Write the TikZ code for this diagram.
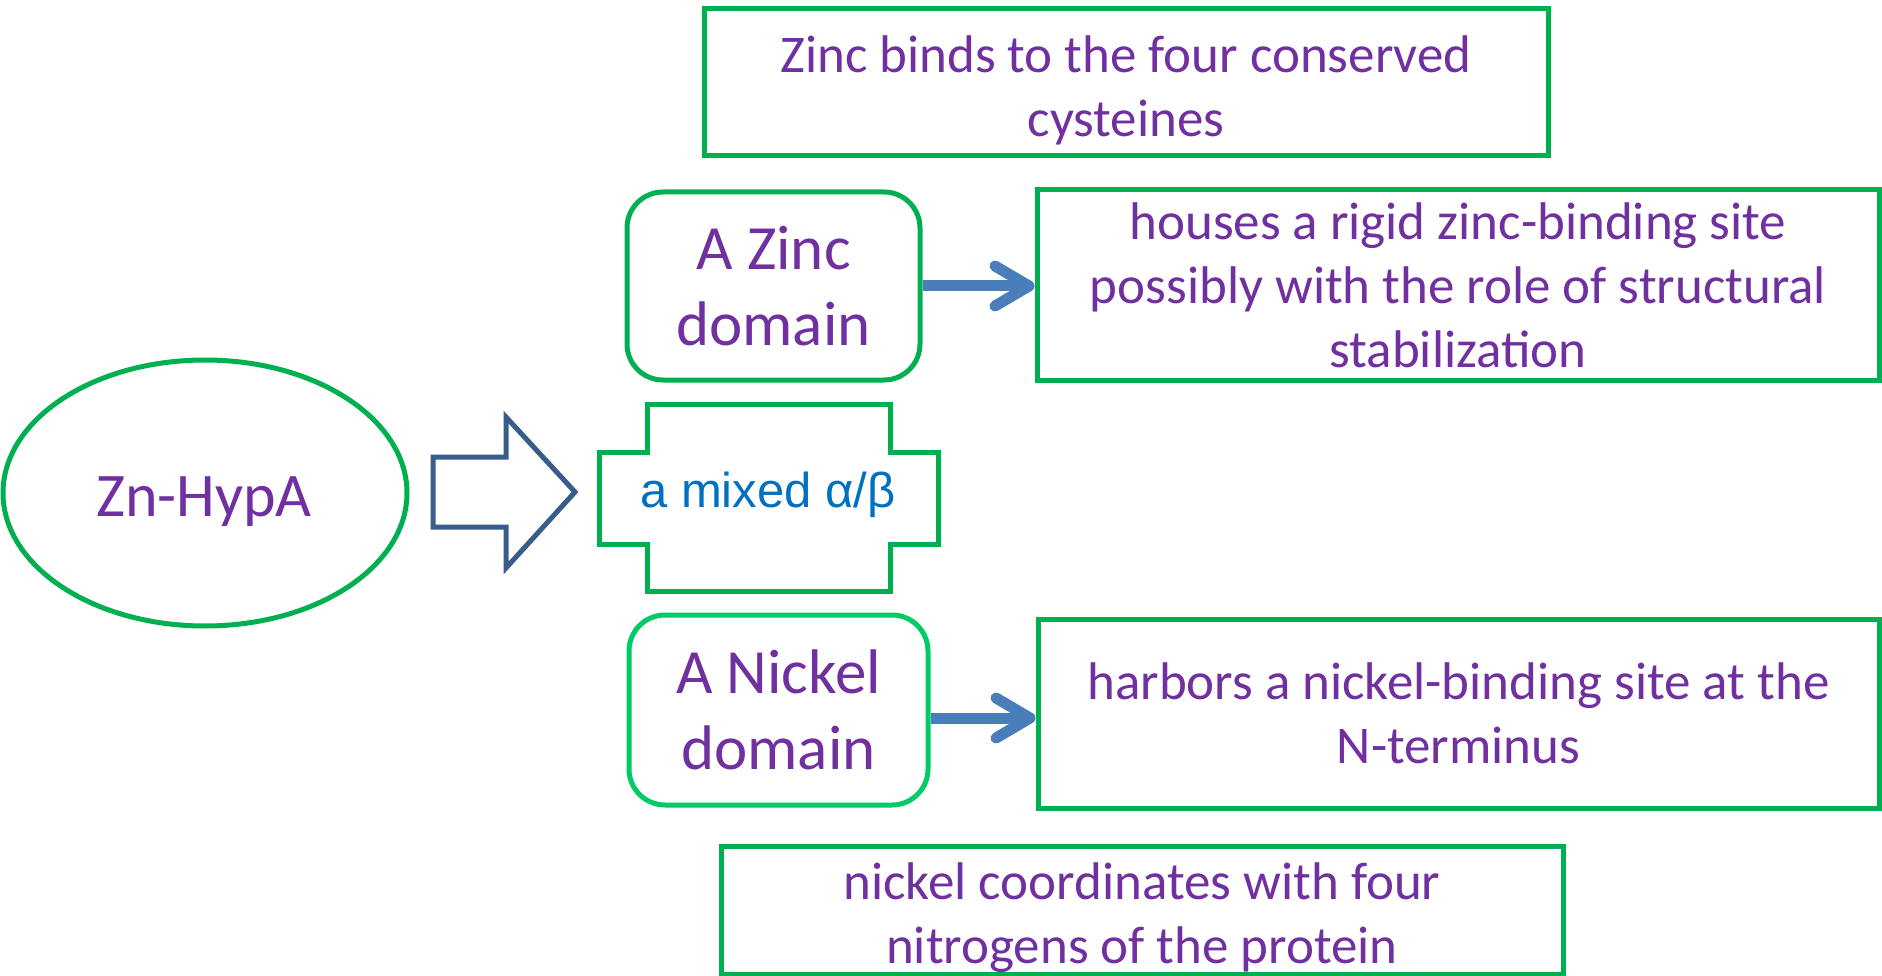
\documentclass[tikz,border=0pt]{standalone}
\usepackage{fontspec}
\setmainfont{Carlito}
\newfontfamily\arialf{Liberation Sans}
\usetikzlibrary{arrows.meta,shapes.geometric}
\definecolor{txtpurple}{HTML}{7030A0}
\definecolor{boxgreen}{HTML}{00B050}
\definecolor{nigreen}{HTML}{00CC66}
\definecolor{blockblue}{HTML}{385D8A}
\definecolor{arrblue}{HTML}{4A7EBB}
\definecolor{mixblue}{HTML}{0070C0}
\tikzset{
  x=1pt, y=-1pt,
  txtbox/.style={draw=boxgreen, line width=5pt, rectangle, inner sep=0pt, align=center,
    text=txtpurple, font=\fontsize{53}{64}\selectfont},
  domainbox/.style={draw=boxgreen, line width=5pt, rectangle, rounded corners=36pt, inner sep=0pt,
    align=center, text=txtpurple, font=\fontsize{63}{76}\selectfont},
  thinarrow/.style={draw=arrblue, line width=11pt,
    -{Straight Barb[length=34pt,width=40pt,round]}},
}
\begin{document}
\begin{tikzpicture}
\fill[white] (0,0) rectangle (1882,976);
\useasboundingbox (0,0) rectangle (1882,976);

% ellipse
\node[ellipse, draw=boxgreen, line width=5pt, minimum width=404pt, minimum height=266pt, inner sep=0pt]
  (ell) at (205,493) {};
\node[anchor=base, text=txtpurple, font=\fontsize{62}{74}\selectfont] (zn) at (204,516) {Zn-HypA};

% block arrow
\draw[draw=blockblue, line width=5pt, miter limit=10]
  (433,457) -- (506,457) -- (506,417) -- (575,492) -- (506,568) -- (506,527) -- (433,527) -- cycle;

% cross shape
\draw[draw=boxgreen, line width=5pt]
  (599,452) -- (647,452) -- (647,404) -- (890,404) -- (890,452) -- (938,452) -- (938,544)
  -- (890,544) -- (890,591) -- (647,591) -- (647,544) -- (599,544) -- cycle;
\node[anchor=base, text=mixblue, font=\arialf\fontsize{49}{58}\selectfont] (mixed) at (768,507) {a mixed α/β};

% top box
\node[txtbox, minimum width=844pt, minimum height=147pt] (top) at (1126,82.5)
  {\rule{0pt}{52pt}Zinc binds to the four conserved\\cysteines};

% zinc domain
\node[domainbox, minimum width=293pt, minimum height=188pt] (zinc) at (773.5,286)
  {A Zinc\\domain};
\node[txtbox, minimum width=842pt, minimum height=190pt] (houses) at (1458,285)
  {houses a rigid zinc-binding site\\possibly with the role of structural\\stabilization};

% nickel domain
\node[domainbox, draw=nigreen, minimum width=299pt, minimum height=190pt] (nickel) at (778.5,710)
  {A Nickel\\domain};
\node[txtbox, minimum width=841pt, minimum height=189pt] (harbors) at (1458.5,713.5)
  {harbors a nickel-binding site at the\\N-terminus};

% bottom box
\node[txtbox, minimum width=842pt, minimum height=128pt] (coord) at (1142,910)
  {\rule{0pt}{52pt}nickel coordinates with four\\nitrogens of the protein};

% arrows
\draw[thinarrow] (zinc.east) -- (houses.west |- zinc.east);
\draw[thinarrow] ([yshift=-8pt]nickel.east) -- ([yshift=-8pt]nickel.east -| harbors.west);
\end{tikzpicture}
\end{document}
